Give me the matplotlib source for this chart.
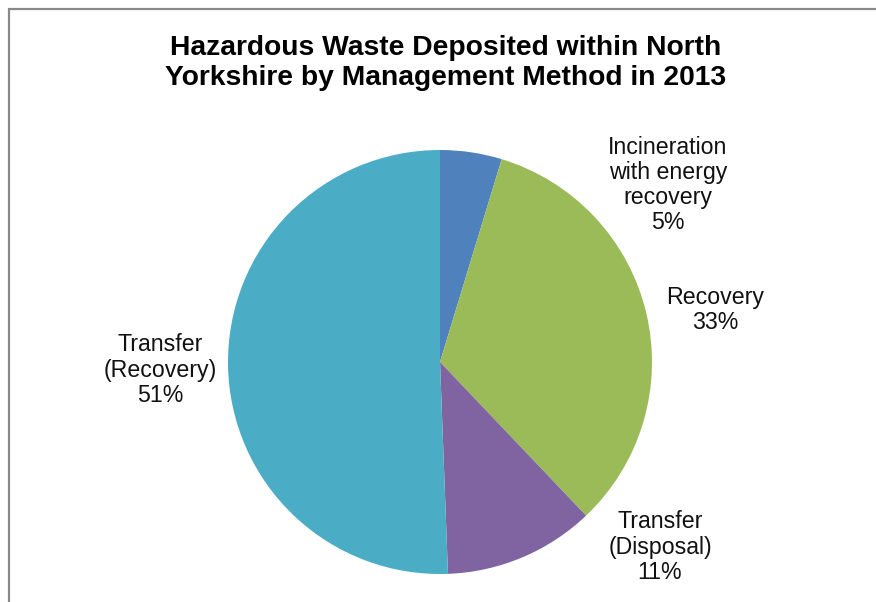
import matplotlib
matplotlib.use("Agg")
import matplotlib.pyplot as plt
from matplotlib.patches import Rectangle

plt.rcParams['font.family'] = ['Liberation Sans', 'DejaVu Sans']

categories = ["Incineration\nwith energy\nrecovery", "Recovery",
              "Transfer\n(Disposal)", "Transfer\n(Recovery)"]
shares = [4.7, 33.2, 11.5, 50.6]
pct_labels = ["5%", "33%", "11%", "51%"]
colors = ["#4F81BD", "#9BBB59", "#8064A2", "#4BACC6"]
# label centres in pie-radius units
label_pos = [(1.075, 0.835), (1.297, 0.245), (1.038, -0.873), (-1.32, -0.038)]

W, H = 876, 602
fig = plt.figure(figsize=(W / 100, H / 100), dpi=100)

# chart border (cropped at right / bottom)
fig.patches.append(Rectangle((8.5 / W, -0.1), 1.2, 1 - 8.5 / H + 0.1,
                             transform=fig.transFigure, fill=False,
                             edgecolor="#898989", linewidth=1.6))

ax = fig.add_axes([0, 0, 1, 1])
cx, cy, r = 440, 362, 212
ax.pie(shares, colors=colors, startangle=90, counterclock=False,
       radius=1, wedgeprops=dict(linewidth=0))
ax.set_aspect('auto')
ax.set_xlim(-cx / r, (W - cx) / r)
ax.set_ylim(-(H - cy) / r, cy / r)
ax.axis('off')

for name, pct, (x, y) in zip(categories, pct_labels, label_pos):
    ax.text(x, y, name + "\n" + pct, ha="center", va="center",
            fontsize=16.7, color="#111111", linespacing=1.12)

fig.text(446 / W, 1 - 63 / H,
         "Hazardous Waste Deposited within North\nYorkshire by Management Method in 2013",
         ha="center", va="center", fontsize=20.3, fontweight="bold",
         linespacing=1.2)

fig.savefig("out.png", dpi=100)
